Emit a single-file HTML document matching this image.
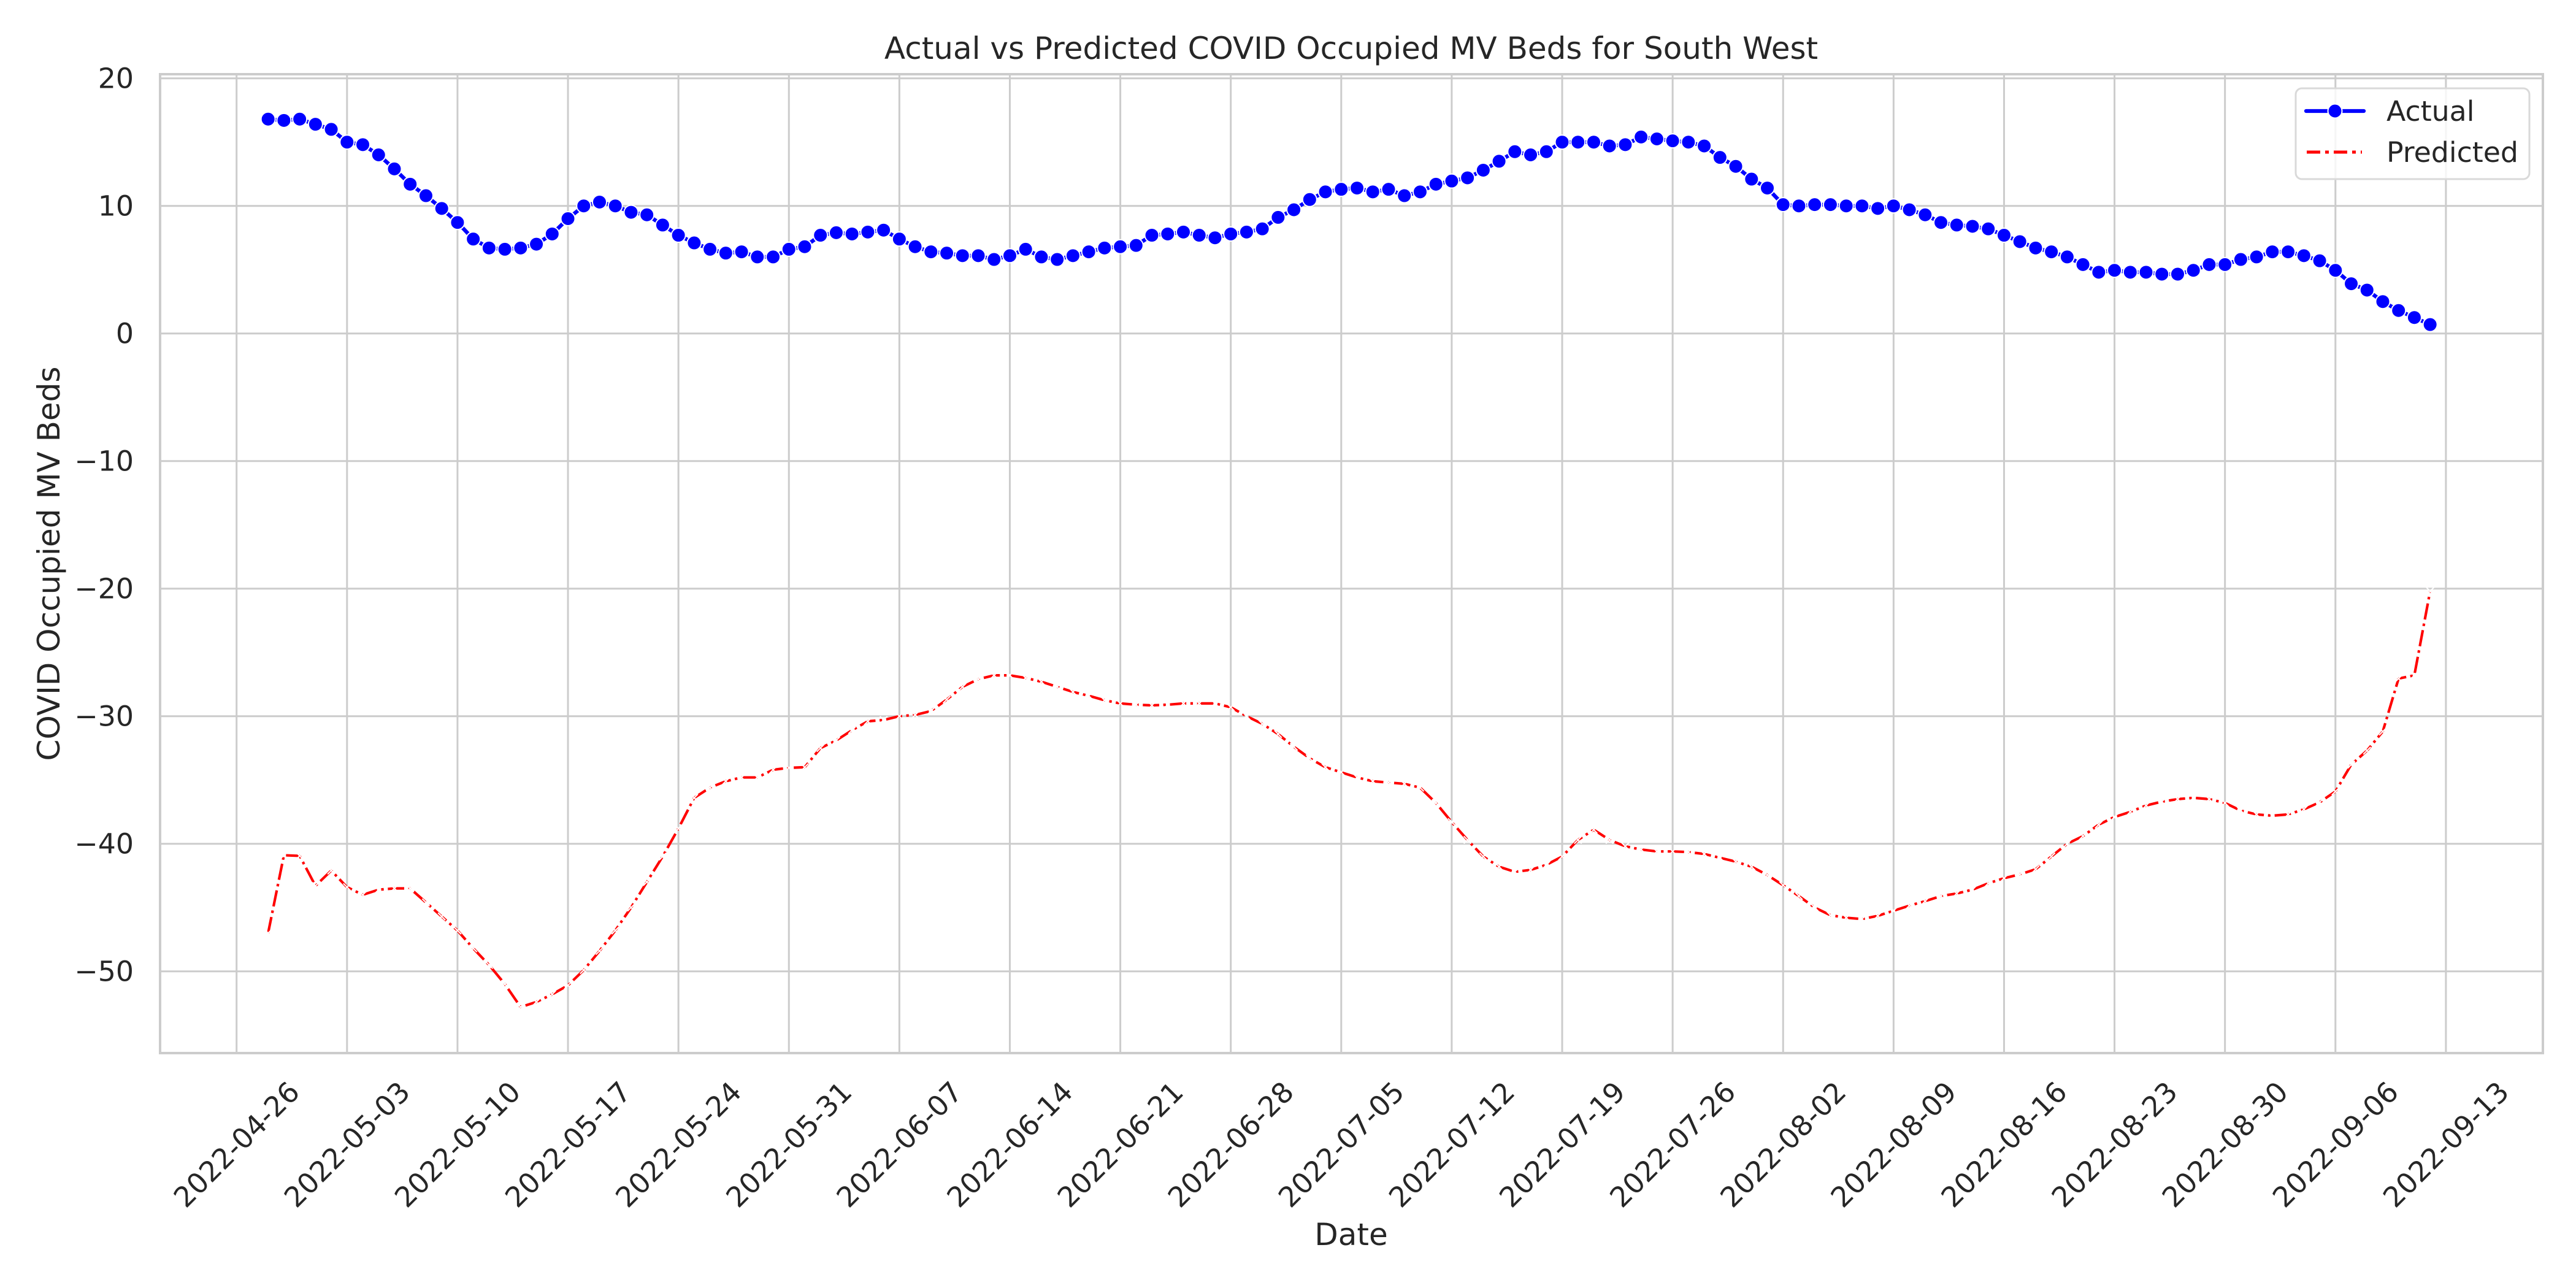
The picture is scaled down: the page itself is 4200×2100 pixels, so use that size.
<!DOCTYPE html>
<html><head><meta charset="utf-8">
<style>
html,body{margin:0;padding:0;background:#fff;}
svg{display:block;}
text{font-family:"DejaVu Sans","Liberation Sans",sans-serif;fill:#262626;}
</style></head>
<body>
<svg id="chart" width="4200" height="2100" viewBox="0 0 4200 2100" xmlns="http://www.w3.org/2000/svg">
<rect x="0" y="0" width="4200" height="2100" fill="#fff"/>
<g id="grid"></g>
<g id="series"></g>
<g id="axes"></g>
</svg>
<script>
// ---- data ----
const startDate = "2022-04-28";
const tickLabels = ["2022-04-26","2022-05-03","2022-05-10","2022-05-17","2022-05-24","2022-05-31","2022-06-07","2022-06-14","2022-06-21","2022-06-28","2022-07-05","2022-07-12","2022-07-19","2022-07-26","2022-08-02","2022-08-09","2022-08-16","2022-08-23","2022-08-30","2022-09-06","2022-09-13"];
const yTicks = [20,10,0,-10,-20,-30,-40,-50];
const actual = [16.8,16.7,16.8,16.4,16.0,15.0,14.8,14.0,12.9,11.7,10.8,9.8,8.7,7.4,6.7,6.6,6.7,7.0,7.8,9.0,10.0,10.3,10.0,9.5,9.3,8.5,7.7,7.1,6.6,6.3,6.4,6.0,6.0,6.6,6.8,7.7,7.9,7.8,
7.95,8.1,7.4,6.8,6.4,6.3,6.1,6.1,5.8,6.1,6.6,6.0,5.8,6.1,6.4,6.7,6.8,6.9,7.7,7.8,7.95,7.7,7.5,7.8,7.95,8.2,9.1,9.7,10.5,11.1,11.3,11.4,11.1,11.3,10.8,11.1,
11.7,11.95,12.2,12.8,13.5,14.25,14.0,14.25,15.0,15.0,15.0,14.7,14.8,15.4,15.25,15.1,15.0,14.7,13.8,13.1,12.1,11.4,10.1,10.0,10.1,10.1,10.0,10.0,9.8,10.0,9.7,9.3,8.7,8.5,8.4,8.2,
7.7,7.2,6.7,6.4,6.0,5.4,4.8,4.95,4.8,4.8,4.65,4.65,4.95,5.4,5.4,5.8,6.0,6.4,6.4,6.1,5.7,4.95,3.9,3.4,2.5,1.8,1.25,0.7];
const predicted = [-47.0,-40.9,-40.95,-43.3,-42.1,-43.4,-44.0,-43.6,-43.5,-43.5,-44.6,-45.7,-46.8,
-48.2,-49.5,-51.0,-52.8,-52.4,-51.8,-51.1,-49.9,-48.4,-46.8,-45.0,-43.0,-41.0,-38.8,-36.4,-35.6,-35.1,-34.8,-34.8,-34.2,-34.05,-34.0,-32.5,-31.9,-31.1,
-30.4,-30.3,-30.0,-29.9,-29.6,-28.7,-27.7,-27.1,-26.8,-26.8,-27.0,-27.3,-27.7,-28.1,-28.4,-28.75,-29.0,-29.1,-29.15,-29.1,-29.0,-29.0,-29.0,-29.3,-30.0,-30.6,-31.4,-32.4,-33.3,-34.0,-34.4,-34.8,-35.1,-35.2,-35.3,-35.6,
-36.8,
-38.3,-39.7,-41.0,-41.8,-42.2,-42.05,-41.65,-41.0,-39.7,-38.9,-39.7,-40.2,-40.45,-40.6,-40.6,-40.65,-40.8,-41.1,-41.4,-41.8,-42.45,-43.25,-44.1,-45.0,-45.6,-45.8,-45.9,-45.65,-45.25,-44.85,-44.5,-44.1,-43.9,-43.6,-43.1,
-42.7,-42.4,
-42.0,-41.0,-40.0,-39.4,-38.5,-37.9,-37.5,-37.0,-36.7,-36.5,-36.4,-36.5,-36.8,-37.4,-37.7,-37.8,-37.7,-37.3,-36.75,-35.9,-33.8,-32.7,-31.2,-27.05,-26.8,-20.2];

// ---- layout ----
const NS="http://www.w3.org/2000/svg";
const L=261,R=4146,T=121,B=1717;
const DAY0=Date.UTC(2022,3,26), DAYMS=86400000;
const dayOf=s=>{const p=s.split("-").map(Number);return (Date.UTC(p[0],p[1]-1,p[2])-DAY0)/DAYMS;};
const xScale=d=>385.7+d*25.73;
const yScale=v=>543.7-v*20.8;
function mk(tag,attrs,parent){const e=document.createElementNS(NS,tag);for(const k in attrs)e.setAttribute(k,attrs[k]);parent.appendChild(e);return e;}
const grid=document.getElementById("grid"),series=document.getElementById("series"),axes=document.getElementById("axes");

// gridlines
tickLabels.forEach(t=>{const x=xScale(dayOf(t));
 const g=mk("line",{x1:x,x2:x,y1:T,y2:B,stroke:"#cccccc","stroke-width":3},grid);
 
 
 const tx=mk("text",{x:0,y:0,"font-size":45.8,"text-anchor":"middle","dominant-baseline":"central",transform:`translate(${x},1866) rotate(-45)`},axes);
 tx.textContent=t;
 
 
});
yTicks.forEach(v=>{const y=yScale(v);
 const g=mk("line",{x1:L,x2:R,y1:y,y2:y,stroke:"#cccccc","stroke-width":3},grid);
 
 
 const tx=mk("text",{x:218,y:y+16,"font-size":45.8,"text-anchor":"end"},axes);
 tx.textContent=v<0?"\u2212"+Math.abs(v):String(v);
 
 
});
// frame
const frame=mk("rect",{x:L,y:T,width:R-L,height:B-T,fill:"none",stroke:"#cccccc","stroke-width":4},axes);



const d0=dayOf(startDate);
// predicted
const pPts=predicted.map((v,i)=>[xScale(d0+i),yScale(v)]);
const pl=mk("polyline",{points:pPts.map(p=>p.join(",")).join(" "),fill:"none",stroke:"#ff0000","stroke-width":4.2,"stroke-dasharray":"26.7 6.7 4.2 6.7","stroke-linejoin":"round"},series);


pPts.forEach(p=>{const m=mk("path",{d:`M${p[0]-6},${p[1]-6}L${p[0]+6},${p[1]+6}M${p[0]-6},${p[1]+6}L${p[0]+6},${p[1]-6}`,stroke:"#ffffff","stroke-width":2},series);
 
 
});
// actual
const aPts=actual.map((v,i)=>[xScale(d0+i),yScale(v)]);
const al=mk("polyline",{points:aPts.map(p=>p.join(",")).join(" "),fill:"none",stroke:"#0000ff","stroke-width":6.25},series);


aPts.forEach(p=>{const c=mk("circle",{cx:p[0],cy:p[1],r:11.5,fill:"#0000ff",stroke:"#ffffff","stroke-width":2},series);
 
 
});
</script>
<svg style="position:absolute;left:0;top:0" width="4200" height="2100" viewBox="0 0 4200 2100" xmlns="http://www.w3.org/2000/svg">
<text x="2203" y="96" font-size="50" text-anchor="middle">Actual vs Predicted COVID Occupied MV Beds for South West</text>
<text x="2203" y="2030" font-size="50" text-anchor="middle">Date</text>
<text x="0" y="0" font-size="50" text-anchor="middle" transform="translate(97,919) rotate(-90)">COVID Occupied MV Beds</text>
<g>
<rect x="3743" y="144" width="381" height="148" rx="10" fill="#ffffff" fill-opacity="0.8" stroke="#d9d9d9" stroke-width="3"/>
<g>
<line x1="3760" y1="181" x2="3854" y2="181" stroke="#0000ff" stroke-width="6.25" stroke-linecap="round"/>
<circle cx="3807" cy="181" r="11.5" fill="#0000ff" stroke="#fff" stroke-width="2"/>
<text x="3891" y="197" font-size="45.8">Actual</text>
</g>
<g>
<line x1="3761" y1="248" x2="3851" y2="248" stroke="#ff0000" stroke-width="5" stroke-dasharray="22 8 6 8"/>
<text x="3891" y="264" font-size="45.8">Predicted</text>
</g>
</g>
</svg>
</body></html>
